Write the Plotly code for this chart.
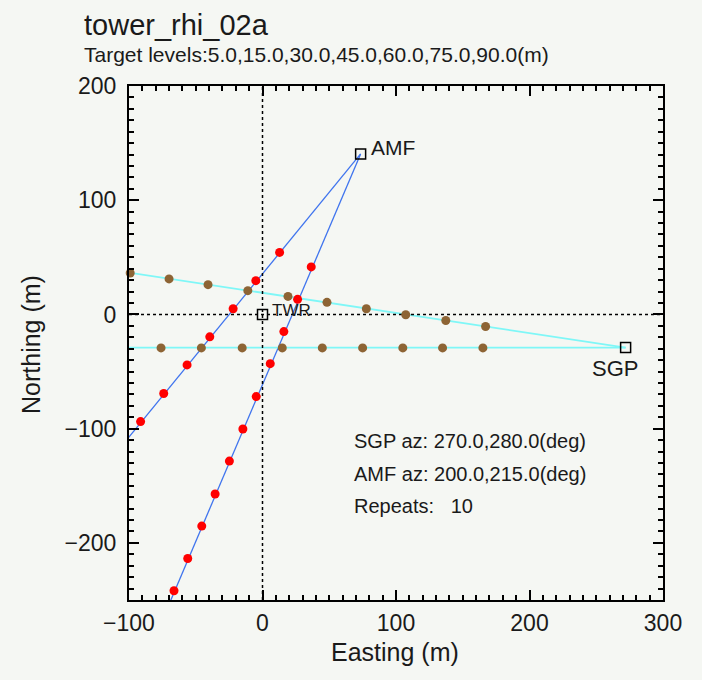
import numpy as np
import plotly.graph_objects as go

# ---------------- data ----------------
site_names = ["AMF", "TWR", "SGP"]
site_x = [73.5, 0.0, 272.0]
site_y = [140.5, 0.0, -29.0]

amf_az = [200.0, 215.0]
sgp_az = [270.0, 280.0]

# red target dots along AMF beams
amf200_x = [36.5, 26.3, 16.0, 5.8, -4.7, -14.7, -24.8, -35.5, -45.5, -56.0, -66.3]
amf200_y = [41.6, 13.2, -15.0, -43.1, -71.9, -100.3, -128.4, -157.2, -185.3, -213.7, -241.9]
amf215_x = [12.8, -5.0, -22.0, -39.5, -56.5, -74.0, -91.3]
amf215_y = [54.3, 29.6, 5.0, -19.6, -44.2, -69.2, -93.8]

# brown target dots along SGP beams
sgp270_x = [-76.0, -45.8, -15.2, 14.8, 44.8, 75.0, 105.1, 134.9, 165.1]
sgp270_y = [-29.3, -29.3, -29.3, -29.3, -29.3, -29.3, -29.3, -29.3, -29.3]
sgp280_x = [-99.1, -70.0, -40.8, -11.0, 19.1, 48.3, 77.8, 107.3, 137.3, 167.1]
sgp280_y = [36.3, 31.1, 26.1, 20.8, 15.8, 10.6, 5.0, -0.3, -5.3, -10.6]

x_range = [-100, 300]
y_range = [-250, 200]

title_text = "tower_rhi_02a"
subtitle_text = "Target levels:5.0,15.0,30.0,45.0,60.0,75.0,90.0(m)"
info_lines = ["SGP az: 270.0,280.0(deg)", "AMF az: 200.0,215.0(deg)", "Repeats:   10"]

# ---------------- figure ----------------
W, H = 702, 680
L, R, T, B = 129, 39, 86, 80
FONT = "Liberation Sans, Arial, sans-serif"
BG = "#f5f7f3"
TXT = "#1a1a1a"

def px(xp):
    return (xp - L) / (W - L - R)

def py(yp):
    return 1 - (yp - T) / (H - T - B)

fig = go.Figure()

# beams
beam_len = 700
for az in amf_az:
    a = np.deg2rad(az)
    fig.add_trace(go.Scatter(
        x=[site_x[0], site_x[0] + beam_len * np.sin(a)],
        y=[site_y[0], site_y[0] + beam_len * np.cos(a)],
        mode="lines", line=dict(color="#3f74ee", width=1.3),
        hoverinfo="skip", showlegend=False))
for az in sgp_az:
    a = np.deg2rad(az)
    fig.add_trace(go.Scatter(
        x=[site_x[2], site_x[2] + beam_len * np.sin(a)],
        y=[site_y[2], site_y[2] + beam_len * np.cos(a)],
        mode="lines", line=dict(color="#7ff7f7", width=1.8),
        hoverinfo="skip", showlegend=False))

# zero lines
fig.add_trace(go.Scatter(x=[0, 0], y=y_range, mode="lines",
                         line=dict(color="black", width=1.5, dash="dot"),
                         hoverinfo="skip", showlegend=False))
fig.add_trace(go.Scatter(x=x_range, y=[0, 0], mode="lines",
                         line=dict(color="black", width=1.5, dash="dot"),
                         hoverinfo="skip", showlegend=False))

# dots
brown = "#8d6434"
for xs, ys in [(sgp270_x, sgp270_y), (sgp280_x, sgp280_y)]:
    fig.add_trace(go.Scatter(x=xs, y=ys, mode="markers",
                             marker=dict(color=brown, size=9, line=dict(width=0)),
                             cliponaxis=False, showlegend=False))
for xs, ys in [(amf200_x, amf200_y), (amf215_x, amf215_y)]:
    fig.add_trace(go.Scatter(x=xs, y=ys, mode="markers",
                             marker=dict(color="#ff0000", size=9, line=dict(width=0)),
                             cliponaxis=False, showlegend=False))

# sites
fig.add_trace(go.Scatter(x=site_x, y=site_y, mode="markers",
                         marker=dict(symbol="square-open", size=10, color="black",
                                     line=dict(width=1.5, color="black")),
                         cliponaxis=False, showlegend=False))

annotations = []
label_pos = {"AMF": (dict(xanchor="left", yanchor="middle"), 8, -6, 21),
             "TWR": (dict(xanchor="left", yanchor="middle"), 7, -4, 17),
             "SGP": (dict(xanchor="right", yanchor="top"), 14, 6, 22)}
for name, xv, yv in zip(site_names, site_x, site_y):
    anc, dx, dy, fs = label_pos[name]
    annotations.append(dict(x=xv, y=yv, xref="x", yref="y", text=name,
                            showarrow=False, xshift=dx, yshift=-dy,
                            font=dict(family=FONT, size=fs, color=TXT), **anc))

# info text
for i, t in enumerate(info_lines):
    annotations.append(dict(x=px(352), y=py(441 + 32.5 * i), xref="paper", yref="paper",
                            text=t, showarrow=False, xanchor="left", yanchor="middle",
                            font=dict(family=FONT, size=20, color=TXT)))

# titles
annotations.append(dict(x=px(82), y=py(25), xref="paper", yref="paper", text=title_text,
                        showarrow=False, xanchor="left", yanchor="middle",
                        font=dict(family=FONT, size=29, color=TXT)))
annotations.append(dict(x=px(82), y=py(54), xref="paper", yref="paper", text=subtitle_text,
                        showarrow=False, xanchor="left", yanchor="middle",
                        font=dict(family=FONT, size=21, color=TXT)))
annotations.append(dict(x=px(395), y=py(652), xref="paper", yref="paper", text="Easting (m)",
                        showarrow=False, xanchor="center", yanchor="middle",
                        font=dict(family=FONT, size=25, color=TXT)))
annotations.append(dict(x=px(31), y=py(345), xref="paper", yref="paper", text="Northing (m)",
                        showarrow=False, xanchor="center", yanchor="middle", textangle=-90,
                        font=dict(family=FONT, size=25, color=TXT)))

axis_common = dict(showgrid=False, zeroline=False, showline=True, linecolor="black",
                   linewidth=2, mirror="allticks", ticks="inside", ticklen=10,
                   tickwidth=1.5, tickcolor="black",
                   tickfont=dict(family=FONT, size=23, color=TXT),
                   minor=dict(ticks="inside", ticklen=5, dtick=10, tickwidth=1.5,
                              tickcolor="black", showgrid=False))

fig.update_layout(
    width=W, height=H,
    margin=dict(l=L, r=R, t=T, b=B),
    paper_bgcolor=BG, plot_bgcolor=BG,
    annotations=annotations,
    xaxis=dict(range=x_range, tick0=-100, dtick=100, ticklabelstandoff=1, **axis_common),
    yaxis=dict(range=y_range, tick0=-200, dtick=100, ticklabelstandoff=6, **axis_common),
    showlegend=False,
)

fig.write_html("out.html")
